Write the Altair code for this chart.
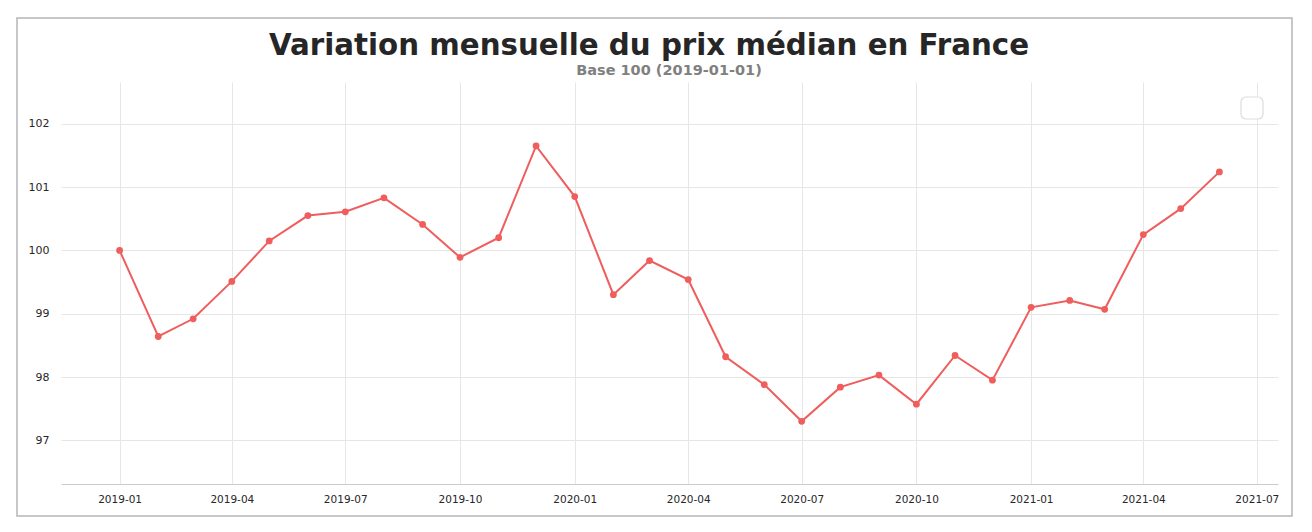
import altair as alt
import pandas as pd

months = ["2019-01-01", "2019-02-01", "2019-03-01", "2019-04-01", "2019-05-01", "2019-06-01",
          "2019-07-01", "2019-08-01", "2019-09-01", "2019-10-01", "2019-11-01", "2019-12-01",
          "2020-01-01", "2020-02-01", "2020-03-01", "2020-04-01", "2020-05-01", "2020-06-01",
          "2020-07-01", "2020-08-01", "2020-09-01", "2020-10-01", "2020-11-01", "2020-12-01",
          "2021-01-01", "2021-02-01", "2021-03-01", "2021-04-01", "2021-05-01", "2021-06-01"]
values = [100.00, 98.64, 98.92, 99.51, 100.15, 100.55,
          100.61, 100.83, 100.41, 99.89, 100.20, 101.65,
          100.85, 99.30, 99.84, 99.54, 98.32, 97.88,
          97.30, 97.84, 98.03, 97.57, 98.34, 97.95,
          99.10, 99.21, 99.07, 100.25, 100.66, 101.24]
x_ticks = [(2019, 1), (2019, 4), (2019, 7), (2019, 10), (2020, 1), (2020, 4), (2020, 7),
           (2020, 10), (2021, 1), (2021, 4), (2021, 7)]
y_ticks = [97, 98, 99, 100, 101, 102]

title_text = "Variation mensuelle du prix médian en France"
subtitle_text = "Base 100 (2019-01-01)"

df = pd.DataFrame({"date": months, "value": values})

FONT = "DejaVu Sans"
COLOR = "#ef5d5d"

xscale = alt.Scale(type="utc",
                   domain=[alt.DateTime(year=2018, month=11, date=15, utc=True),
                           alt.DateTime(year=2021, month=7, date=18, utc=True)])
yscale = alt.Scale(domain=[96.31, 102.66], nice=False, zero=False)

xaxis = alt.Axis(values=[alt.DateTime(year=y, month=m, date=1, utc=True) for y, m in x_ticks],
                 format="%Y-%m", title=None, grid=True, gridColor="#e6e6e6", gridWidth=1,
                 ticks=False, domain=True, domainColor="#cccccc", domainWidth=1.2,
                 labelFont=FONT, labelFontSize=10.5, labelColor="#262626", labelPadding=10)
yaxis = alt.Axis(values=y_ticks, format="d", title=None, grid=True, gridColor="#e6e6e6",
                 gridWidth=1, ticks=False, domain=False, labelFont=FONT, labelFontSize=11,
                 labelColor="#262626", labelPadding=12)

base = alt.Chart(df)
line = base.mark_line(color=COLOR, strokeWidth=2).encode(
    x=alt.X("date:T", scale=xscale, axis=xaxis),
    y=alt.Y("value:Q", scale=yscale, axis=yaxis),
)
pts = base.mark_circle(color=COLOR, size=46, opacity=1).encode(
    x=alt.X("date:T", scale=xscale),
    y=alt.Y("value:Q", scale=yscale),
)

one = alt.Data(values=[{"a": 1}])
frame = alt.Chart(one).mark_rect(fill=None, stroke="#b5b5b5", strokeWidth=1.5, clip=False).encode(
    x=alt.value(-44), x2=alt.value(1231), y=alt.value(-64), y2=alt.value(434))
legend_box = alt.Chart(one).mark_rect(fill="white", stroke="#dddddd", strokeWidth=1.2,
                                      cornerRadius=5, clip=False).encode(
    x=alt.value(1180), x2=alt.value(1202), y=alt.value(15), y2=alt.value(37))
title = alt.Chart(one).mark_text(font=FONT, fontSize=29.3, fontWeight="bold", color="#262626",
                                 align="center", baseline="middle").encode(
    x=alt.value(588), y=alt.value(-36), text=alt.value(title_text))
subtitle = alt.Chart(one).mark_text(font=FONT, fontSize=14.5, fontWeight="bold", color="#808080",
                                    align="center", baseline="middle").encode(
    x=alt.value(608), y=alt.value(-11), text=alt.value(subtitle_text))

chart = alt.layer(frame, line, pts, legend_box, title, subtitle).properties(
    width=1217, height=402,
    autosize=alt.AutoSizeParams(type="none"),
    padding={"left": 61, "top": 82, "right": 34, "bottom": 48},
    background="white",
).configure_view(stroke=None)

chart.save("out.html", embed_options={"renderer": "svg", "actions": False})
